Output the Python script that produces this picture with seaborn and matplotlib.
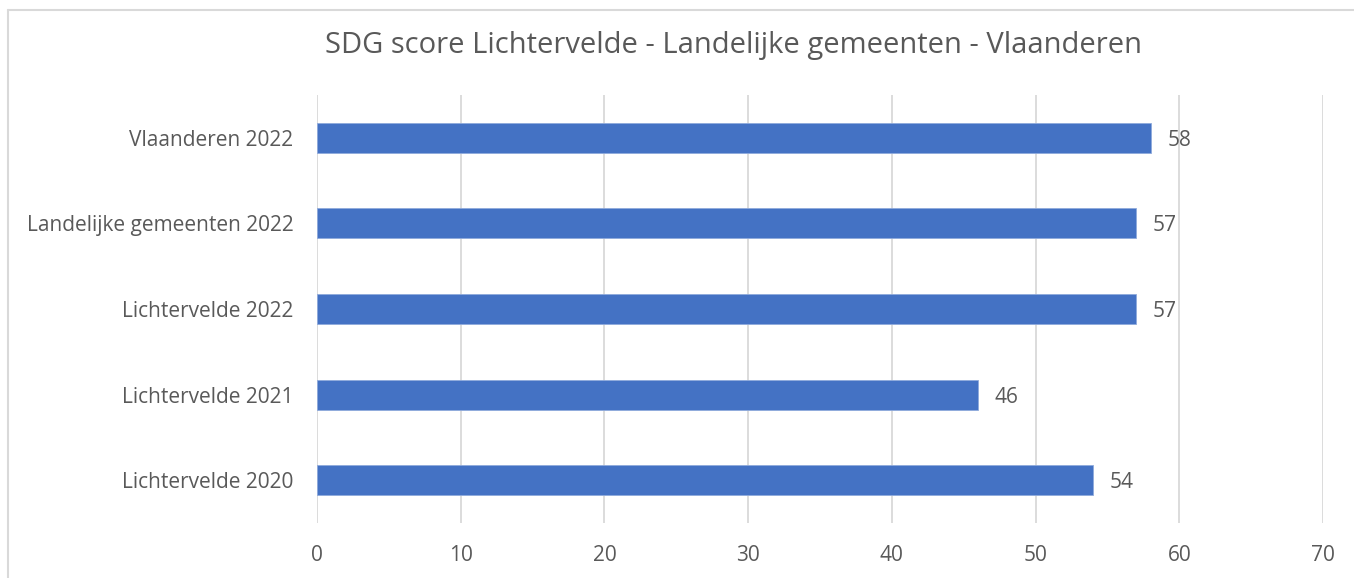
import matplotlib
matplotlib.use("Agg")
import matplotlib.pyplot as plt
import seaborn as sns
import pandas as pd
from matplotlib.lines import Line2D

categories = ["Vlaanderen 2022", "Landelijke gemeenten 2022", "Lichtervelde 2022",
              "Lichtervelde 2021", "Lichtervelde 2020"]
scores = [58, 57, 57, 46, 54]
x_ticks = [0, 10, 20, 30, 40, 50, 60, 70]
title = "SDG score Lichtervelde - Landelijke gemeenten - Vlaanderen"

sns.set_theme(style="white")
plt.rcParams['font.family'] = ['Open Sans', 'DejaVu Sans']

TEXT = "#595959"
GRID = "#D9D9D9"
BAR = "#4472C4"

df = pd.DataFrame({"cat": categories, "score": scores})

fig = plt.figure(figsize=(13.54, 5.78), dpi=100)
ax = fig.add_axes([317/1354, 1-523/578, (1323-317)/1354, (523-95)/578])

sns.barplot(data=df, x="score", y="cat", orient="h", color=BAR, width=0.35,
            saturation=1, ax=ax, edgecolor="#8FAADC", linewidth=0.6)

ax.set_xlim(0, 70)
ax.set_ylim(4.5, -0.5)
ax.set_xticks(x_ticks)
ax.set_xticklabels([str(t) for t in x_ticks])
ax.xaxis.grid(True, color=GRID, linewidth=1.3)
ax.set_axisbelow(True)
for s in ax.spines.values():
    s.set_visible(False)
ax.set_xlabel("")
ax.set_ylabel("")
ax.tick_params(axis="both", length=0, labelsize=15, labelcolor=TEXT)
ax.tick_params(axis="x", pad=16)
ax.tick_params(axis="y", pad=17)

for c in ax.containers:
    texts = ax.bar_label(c, labels=[str(v) for v in scores], padding=12,
                         fontsize=15, color=TEXT)
    for t in texts:
        t.set_va("center_baseline")

fig.text(0.542, 1-46/578, title, ha="center", va="center", fontsize=21, color=TEXT)

# chart border (left and top visible)
fig.add_artist(Line2D([8/1354, 8/1354], [0, 1-10/578], transform=fig.transFigure,
                      color=GRID, linewidth=1.5))
fig.add_artist(Line2D([8/1354, 1], [1-10/578, 1-10/578], transform=fig.transFigure,
                      color=GRID, linewidth=1.5))

fig.savefig("out.png", dpi=100, facecolor="white")
